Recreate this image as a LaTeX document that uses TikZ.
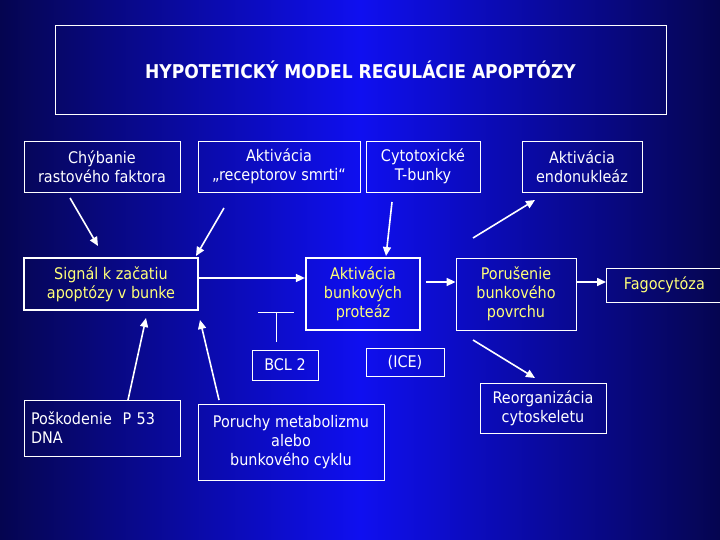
\documentclass[tikz,border=0pt]{standalone}
\usepackage{fontspec}
\setmainfont{DejaVu Sans Condensed}
\usetikzlibrary{arrows.meta}
\definecolor{bgin}{RGB}{15,15,240}
\definecolor{bgout}{RGB}{5,5,80}
\definecolor{ytext}{RGB}{255,255,120}
\begin{document}
\begin{tikzpicture}[x=1pt,y=-1pt,
  bx/.style={draw=white,line width=0.8pt,text=white,align=center,inner sep=0pt,font=\fontsize{16}{19}\selectfont},
  thick box/.style={bx,line width=2.2pt,text=ytext},
  arr/.style={draw=white,line width=1.6pt,-{Triangle[length=9pt,width=8pt]}}]
\useasboundingbox (0,0) rectangle (720,540);
\shade[left color=bgout,right color=bgout,middle color=bgin] (0,0) rectangle (720,540);
\node[bx,minimum width=611pt,minimum height=89pt,font=\bfseries\fontsize{19}{22}\selectfont] (t) at (360.5,69.5) {HYPOTETICKÝ MODEL REGULÁCIE APOPTÓZY};
\node[bx,minimum width=156pt,minimum height=51pt] (a) at (102,166.5) {Chýbanie\\rastového faktora};
\node[bx,minimum width=162pt,minimum height=51pt] (b) at (279,166.5) {Aktivácia\\„receptorov smrti“};
\node[bx,minimum width=114pt,minimum height=51pt] (c) at (423,166.5) {Cytotoxické\\T-bunky};
\node[bx,minimum width=120pt,minimum height=51pt] (d) at (582,166.5) {Aktivácia\\endonukleáz};
\node[thick box,minimum width=174pt,minimum height=52pt] (s) at (111,284) {Signál k začatiu\\apoptózy v bunke};
\node[thick box,minimum width=114pt,minimum height=72pt] (p) at (363,294) {Aktivácia\\bunkových\\proteáz};
\node[bx,minimum width=120pt,minimum height=72pt,text=ytext] (q) at (516,294) {Porušenie\\bunkového\\povrchu};
\node[bx,minimum width=116pt,minimum height=34pt,text=ytext,anchor=west] (f) at (606,285) {Fagocytóza};
\node[bx,minimum width=66pt,minimum height=30pt] (bcl) at (285,365) {BCL 2};
\node[bx,minimum width=78pt,minimum height=28pt] (ice) at (405,362) {(ICE)};
\node[bx,minimum width=126pt,minimum height=50pt] (r) at (543,408) {Reorganizácia\\cytoskeletu};
\node[bx,minimum width=156pt,minimum height=56pt,align=left,text width=142pt] (e) at (102,428) {Poškodenie\ \ P 53\\DNA};
\node[bx,minimum width=186pt,minimum height=76pt] (g) at (291,442) {Poruchy metabolizmu\\alebo\\bunkového cyklu};
\coordinate (a1) at (70,198); \coordinate (b1) at (224,208);
\coordinate (c1) at (392,202); \coordinate (q1) at (473,238);
\coordinate (q2) at (473,340); \coordinate (e1) at (128,400);
\coordinate (g1) at (219,400);
\draw[arr] (a1) -- (98,246);
\draw[arr] (b1) -- (196,256);
\draw[arr] (c1) -- (386,256);
\draw[arr] (s.east|-0,278) -- (p.west|-0,278);
\draw[arr] (426,282) -- (q.west|-0,282);
\draw[arr] (q.east|-0,282) -- (f.west|-0,282);
\draw[arr] (q1) -- (535,200);
\draw[arr] (q2) -- (535,378);
\draw[arr] (e1) -- (146,318);
\draw[arr] (g1) -- (200,320);
\coordinate (tb) at (276,342);
\draw[white,line width=0.8pt] (tb) -- (276,312) (258,312) -- (294,312);
\end{tikzpicture}
\end{document}
